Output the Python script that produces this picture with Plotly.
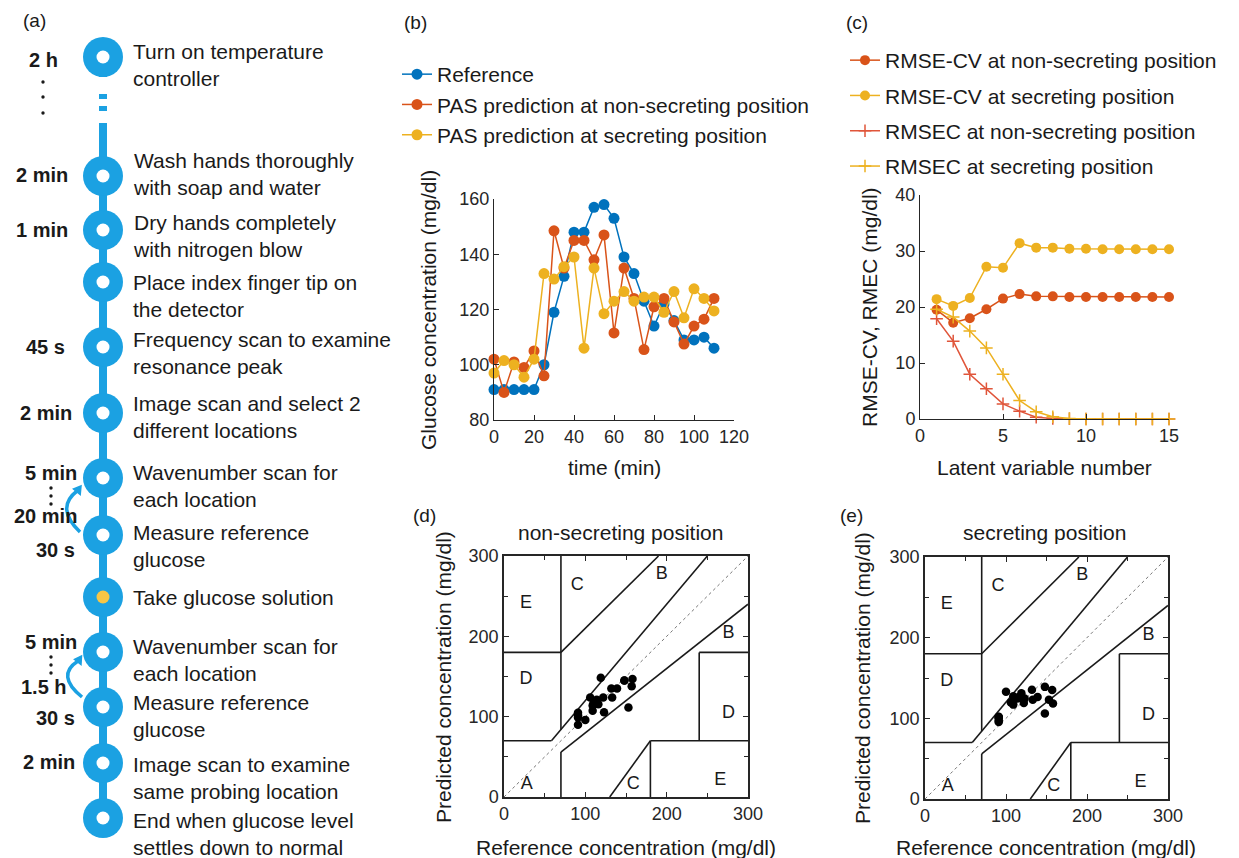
import plotly.graph_objects as go

W, H = 1239, 858
FONT = "Liberation Sans, Arial, sans-serif"
INK = "#262626"
BLUE_A = "#1BA1E2"
YEL_A = "#F6C646"
C_REF = "#0072BD"
C_NON = "#D95319"
C_SEC = "#EDB120"

# ---------------- data: panel (b) ----------------
time_min = [0, 5, 10, 15, 20, 25, 30, 35, 40, 45, 50, 55, 60, 65, 70, 75, 80, 85, 90, 95, 100, 105, 110]
glucose_ref = [91, 91, 91, 91, 91, 100, 119, 132, 148, 148, 157, 158, 153, 139, 133, 123, 114, 122, 116, 109, 109, 110, 106]
pas_non = [102, 90, 101, 99, 105, 96, 148.5, 135, 145, 145, 138, 147, 111.5, 135, 124, 105.5, 121, 124, 115.5, 107.5, 114, 116.5, 124]
pas_sec = [97, 101.5, 100, 95.5, 102, 133, 131, 135.5, 139, 106, 135, 118.5, 123, 126.5, 123, 124.5, 124.5, 119, 126.5, 117, 127.5, 124, 119.5]

# ---------------- data: panel (c) ----------------
latent_n = list(range(1, 16))
rmsecv_non = [19.5, 17.2, 18.0, 19.6, 21.5, 22.3, 21.9, 21.9, 21.8, 21.8, 21.8, 21.8, 21.8, 21.8, 21.8]
rmsecv_sec = [21.4, 20.2, 21.6, 27.2, 27.0, 31.4, 30.6, 30.6, 30.4, 30.4, 30.3, 30.3, 30.3, 30.3, 30.3]
rmsec_non = [17.9, 13.9, 8.0, 5.4, 2.7, 1.4, 0.3, 0.1, 0.05, 0, 0, 0, 0, 0, 0]
rmsec_sec = [19.6, 18.2, 15.7, 12.7, 8.0, 3.3, 1.3, 0.4, 0.1, 0, 0, 0, 0, 0, 0]

# ---------------- Clarke error grid (zone boundaries, axis max 300) ----------------
zone_x0 = [0, 175 / 3, 70, 0, 70, 70, 70, 180, 180, 240, 240, 130]
zone_y0 = [70, 70, 84, 180, 180, 0, 56, 0, 70, 70, 180, 0]
zone_x1 = [175 / 3, 250, 70, 70, 190, 70, 300, 180, 300, 240, 300, 180]
zone_y1 = [70, 300, 300, 180, 300, 56, 240, 70, 70, 180, 180, 70]
zone_text = ["A", "B", "B", "C", "C", "D", "D", "E", "E"]
zone_tx = [28, 194, 276, 90, 159, 27, 276, 27, 266]
zone_ty = [15, 277, 203, 263, 15, 146, 104, 241, 21]

# ---------------- panel (a) protocol ----------------
step_texts = [
    "Turn on temperature<br>controller",
    "Wash hands thoroughly<br>with soap and water",
    "Dry hands completely<br>with nitrogen blow",
    "Place index finger tip on<br>the detector",
    "Frequency scan to examine<br>resonance peak",
    "Image scan and select 2<br>different locations",
    "Wavenumber scan for<br>each location",
    "Measure reference<br>glucose",
    "Take glucose solution",
    "Wavenumber scan for<br>each location",
    "Measure reference<br>glucose",
    "Image scan to examine<br>same probing location",
    "End when glucose level<br>settles down to normal",
]
step_is_glucose = [False] * 8 + [True] + [False] * 4
step_durations = ["2 h", "2 min", "1 min", "45 s", "2 min", "5 min", "20 min", "30 s", "5 min", "1.5 h", "30 s", "2 min"]

# layout positions (pixels) for the diagram
node_y = [57, 176, 230, 282, 347, 413, 478, 535, 597, 652, 707, 763, 818]
text_y = [65, 174, 236, 296, 353, 417, 486, 546, 597, 660, 716, 778, 834]
dur_xy = [(43, 60), (42, 175), (42, 230), (45, 347), (46, 413), (51, 473), (45, 516),
          (55, 550), (51, 642), (44, 687), (55, 718), (49, 762)]
NODE_X = 103


def dom_x(a, b):
    return [a / W, b / W]


def dom_y(top, bot):
    return [1 - bot / H, 1 - top / H]


fig = go.Figure()

# ---------- panel (a) on a pixel canvas axis (x5/y5) ----------
fig.add_trace(go.Scatter(x=[NODE_X] * len(node_y), y=node_y, mode="markers",
                         marker=dict(size=40, color=BLUE_A), xaxis="x5", yaxis="y5",
                         showlegend=False, hoverinfo="skip", cliponaxis=False))
fig.add_trace(go.Scatter(x=[NODE_X] * len(node_y), y=node_y, mode="markers",
                         marker=dict(size=13, color=[YEL_A if g else "white" for g in step_is_glucose]),
                         xaxis="x5", yaxis="y5", showlegend=False, hoverinfo="skip", cliponaxis=False))

shapes = []
for (y0, y1) in [(57, 77), (94, 99), (106, 111), (123, 818)]:
    shapes.append(dict(type="line", xref="x5", yref="y5", x0=NODE_X, x1=NODE_X, y0=y0, y1=y1,
                       line=dict(color=BLUE_A, width=8), layer="below"))
# curved loop arrows
for (p, head) in [("M 80 532 Q 55 508 77 491", "M 81 486 L 80.2 494.5 L 73.5 489 Z"),
                  ("M 82 697 Q 55.5 675.5 78 661", "M 81.5 656 L 81 664.5 L 74.5 659.5 Z")]:
    shapes.append(dict(type="path", xref="x5", yref="y5", path=p,
                       line=dict(color=BLUE_A, width=3.5)))
    shapes.append(dict(type="path", xref="x5", yref="y5", path=head,
                       line=dict(color=BLUE_A, width=1.5), fillcolor=BLUE_A))
# vertical ellipsis dots
for (dx, dy) in [(43, 82), (43, 97), (43, 113), (51, 488), (51, 496), (51, 504), (51, 657), (51, 665), (51, 673)]:
    shapes.append(dict(type="circle", xref="x5", yref="y5", x0=dx - 1.7, x1=dx + 1.7, y0=dy - 1.7, y1=dy + 1.7,
                       line=dict(width=0), fillcolor="#1a1a1a"))

annotations = []
for t, ty in zip(step_texts, text_y):
    annotations.append(dict(x=131, y=ty, xref="x5", yref="y5", text=t, showarrow=False,
                            xanchor="left", yanchor="middle", align="left",
                            font=dict(size=21, color="#1a1a1a", family=FONT)))
for d, (dx, dy) in zip(step_durations, dur_xy):
    annotations.append(dict(x=dx, y=dy, xref="x5", yref="y5", text="<b>%s</b>" % d, showarrow=False,
                            xanchor="center", yanchor="middle",
                            font=dict(size=20, color="#1a1a1a", family=FONT)))

# panel labels
for lab, (lx, ly) in zip(["(a)", "(b)", "(c)", "(d)", "(e)"],
                         [(34, 20), (415, 22), (857, 22), (424, 515), (851, 515)]):
    annotations.append(dict(x=lx, y=ly, xref="x5", yref="y5", text=lab, showarrow=False,
                            xanchor="center", yanchor="middle", font=dict(size=19, color="#1a1a1a", family=FONT)))

# axis titles and subplot titles
def title_ann(text, x, y, angle=0):
    annotations.append(dict(x=x, y=y, xref="x5", yref="y5", text=text, showarrow=False, textangle=angle,
                            xanchor="center", yanchor="middle", font=dict(size=21, color="#1a1a1a", family=FONT)))

title_ann("Glucose concentration (mg/dl)", 428, 310, -90)
title_ann("time (min)", 614, 467)
title_ann("RMSE-CV, RMEC (mg/dl)", 869, 307, -90)
title_ann("Latent variable number", 1044, 467)
title_ann("Predicted concentration (mg/dl)", 443, 677, -90)
title_ann("Reference concentration (mg/dl)", 626, 847)
title_ann("non-secreting position", 620, 532)
title_ann("Predicted concentration (mg/dl)", 862, 678, -90)
title_ann("Reference concentration (mg/dl)", 1046, 847)
title_ann("secreting position", 1044, 532)

# ---------- panel (b) ----------
for name, ys, col in [("Reference", glucose_ref, C_REF),
                      ("PAS prediction at non-secreting position", pas_non, C_NON),
                      ("PAS prediction at secreting position", pas_sec, C_SEC)]:
    fig.add_trace(go.Scatter(x=time_min, y=ys, name=name, mode="lines+markers",
                             line=dict(color=col, width=1.5), marker=dict(size=11, color=col),
                             xaxis="x", yaxis="y", legend="legend", cliponaxis=False))

# ---------- panel (c) ----------
for i, (name, ys, col, sym) in enumerate([
        ("RMSE-CV at non-secreting position", rmsecv_non, C_NON, "circle"),
        ("RMSE-CV at secreting position", rmsecv_sec, C_SEC, "circle"),
        ("RMSEC at non-secreting position", rmsec_non, "#E0553A", "cross-thin"),
        ("RMSEC at secreting position", rmsec_sec, C_SEC, "cross-thin")]):
    mk = dict(size=10, color=col) if sym == "circle" else dict(size=9, symbol=sym, line=dict(color=col, width=1.5))
    fig.add_trace(go.Scatter(x=latent_n, y=ys, name=name, mode="lines+markers",
                             line=dict(color=col, width=1.5), marker=mk, legendgroup="g%d" % i,
                             xaxis="x2", yaxis="y2", legend="legend2", cliponaxis=False))

# ---------- panels (d) and (e) ----------
zx, zy = [], []
for a, b, c, d in zip(zone_x0, zone_y0, zone_x1, zone_y1):
    zx += [a, c, None]
    zy += [b, d, None]
for xa, ya, pred in [("x3", "y3", pas_non), ("x4", "y4", pas_sec)]:
    fig.add_trace(go.Scatter(x=[0, 300], y=[0, 300], mode="lines", line=dict(color="#777777", width=1, dash="dot"),
                             xaxis=xa, yaxis=ya, showlegend=False, hoverinfo="skip"))
    fig.add_trace(go.Scatter(x=zx, y=zy, mode="lines", line=dict(color="#1a1a1a", width=1.6),
                             xaxis=xa, yaxis=ya, showlegend=False, hoverinfo="skip"))
    fig.add_trace(go.Scatter(x=zone_tx, y=zone_ty, mode="text", text=zone_text,
                             textfont=dict(size=18, color="#1a1a1a", family=FONT),
                             xaxis=xa, yaxis=ya, showlegend=False, hoverinfo="skip"))
    fig.add_trace(go.Scatter(x=glucose_ref, y=pred, mode="markers", marker=dict(size=8.5, color="black"),
                             xaxis=xa, yaxis=ya, showlegend=False))

axis_common = dict(showline=True, linecolor=INK, linewidth=1, ticks="inside", ticklen=5, tickcolor=INK,
                   tickfont=dict(size=18, color=INK, family=FONT), showgrid=False, zeroline=False,
                   fixedrange=True, automargin=False)
clarke_common = dict(axis_common, mirror="ticks", range=[0, 300], tickvals=[0, 100, 200, 300],
                     minor=dict(tickvals=[50, 150, 250], ticks="inside", ticklen=4, tickcolor=INK),
                     linewidth=1.5)

fig.update_layout(
    template="none",
    width=W, height=H, margin=dict(l=0, r=0, t=0, b=0, pad=0, autoexpand=False),
    paper_bgcolor="white", plot_bgcolor="rgba(0,0,0,0)",
    font=dict(family=FONT, color="#1a1a1a"),
    shapes=shapes, annotations=annotations,
    xaxis=dict(axis_common, domain=dom_x(494, 734), anchor="y", range=[0, 120], tickvals=list(range(0, 121, 20))),
    yaxis=dict(axis_common, domain=dom_y(199, 420), anchor="x", range=[80, 160], tickvals=list(range(80, 161, 20))),
    xaxis2=dict(axis_common, domain=dom_x(920, 1169), anchor="y2", range=[0, 15], tickvals=[0, 5, 10, 15]),
    yaxis2=dict(axis_common, domain=dom_y(195, 419), anchor="x2", range=[0, 40], tickvals=[0, 10, 20, 30, 40]),
    xaxis3=dict(clarke_common, domain=dom_x(504, 748), anchor="y3"),
    yaxis3=dict(clarke_common, domain=dom_y(556, 797), anchor="x3"),
    xaxis4=dict(clarke_common, domain=dom_x(925, 1168), anchor="y4"),
    yaxis4=dict(clarke_common, domain=dom_y(557, 799), anchor="x4"),
    xaxis5=dict(domain=[0, 1], anchor="y5", range=[0, W], visible=False, fixedrange=True, automargin=False),
    yaxis5=dict(domain=[0, 1], anchor="x5", range=[H, 0], visible=False, fixedrange=True, automargin=False),
    legend=dict(x=397 / W, y=1 - 54 / H, xanchor="left", yanchor="top", bgcolor="rgba(0,0,0,0)",
                font=dict(size=21, color="#1a1a1a", family=FONT), itemwidth=30, tracegroupgap=0),
    legend2=dict(x=845 / W, y=1 - 40 / H, xanchor="left", yanchor="top", bgcolor="rgba(0,0,0,0)",
                 font=dict(size=21, color="#1a1a1a", family=FONT), itemwidth=30, tracegroupgap=5),
    showlegend=True,
)

fig.write_html("out.html", config={"displayModeBar": False},
               post_script="document.body.style.margin='0';document.body.style.padding='0';"
                           "document.documentElement.style.overflow='hidden';")
